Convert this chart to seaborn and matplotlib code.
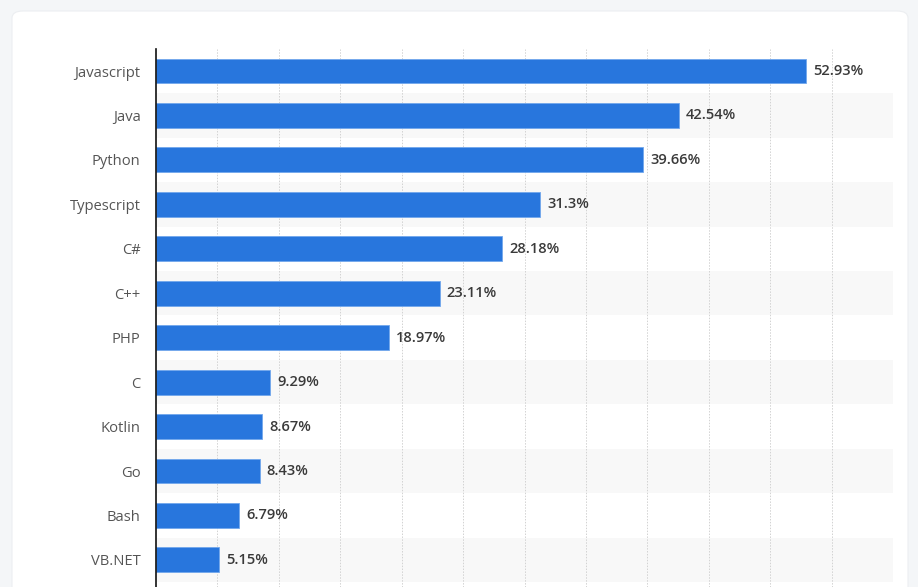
import matplotlib
matplotlib.use("Agg")
import matplotlib.pyplot as plt
from matplotlib.patches import FancyBboxPatch
import seaborn as sns
import pandas as pd

languages = ["Javascript", "Java", "Python", "Typescript", "C#", "C++", "PHP",
             "C", "Kotlin", "Go", "Bash", "VB.NET"]
shares = [52.93, 42.54, 39.66, 31.3, 28.18, 23.11, 18.97, 9.29, 8.67, 8.43, 6.79, 5.15]
value_labels = ["52.93%", "42.54%", "39.66%", "31.3%", "28.18%", "23.11%", "18.97%",
                "9.29%", "8.67%", "8.43%", "6.79%", "5.15%"]
grid_ticks = [5, 10, 15, 20, 25, 30, 35, 40, 45, 50, 55, 60]

df = pd.DataFrame({"language": languages, "share": shares})

sns.set_theme(style="white")
plt.rcParams["font.family"] = ["Open Sans", "DejaVu Sans"]

W, H = 918, 587
fig = plt.figure(figsize=(W / 100, H / 100), dpi=100)
fig.patch.set_facecolor("#f4f6f8")

card = FancyBboxPatch((12 / W, -0.1), (908 - 12) / W, (H - 11) / H + 0.1,
                      boxstyle="round,pad=0,rounding_size=0.012",
                      transform=fig.transFigure, facecolor="white",
                      edgecolor="#eceef1", linewidth=0.8, zorder=-10)
fig.patches.append(card)

top_px = 48.8
ax = fig.add_axes([156 / W, 0, (893 - 156) / W, (H - top_px) / H])
ax.set_zorder(5)
ax.set_facecolor("none")

# alternating stripes
for i in range(len(languages)):
    if i % 2 == 1:
        ax.axhspan(i - 0.5, i + 0.5, color="#f8f8f8", zorder=0, lw=0)

for t in grid_ticks:
    ax.axvline(t, color="#d2d2d2", lw=0.7, ls=(0, (1.5, 1.5)), zorder=1)

sns.barplot(data=df, y="language", x="share", orient="h", color="#2876dd",
            width=0.56, saturation=1, edgecolor="#72a7ec", linewidth=0.6,
            ax=ax, zorder=2)

for i, (v, lab) in enumerate(zip(shares, value_labels)):
    ax.annotate(lab, (v, i), xytext=(5, 0), textcoords="offset points",
                va="center", ha="left", fontsize=10.5, fontweight="semibold",
                color="#3a3a3a", zorder=3)

ax.set_xlim(0, 60)
ax.set_ylim(11.61, -0.5)
ax.set_xlabel("")
ax.set_ylabel("")
ax.set_xticks([])
ax.tick_params(axis="y", length=0, pad=11, labelsize=10.6, labelcolor="#555555")
for s in ["top", "right", "bottom"]:
    ax.spines[s].set_visible(False)
ax.spines["left"].set_color("#111111")
ax.spines["left"].set_linewidth(1.2)
ax.spines["left"].set_zorder(4)

fig.savefig("out.png", dpi=100, facecolor=fig.get_facecolor())
